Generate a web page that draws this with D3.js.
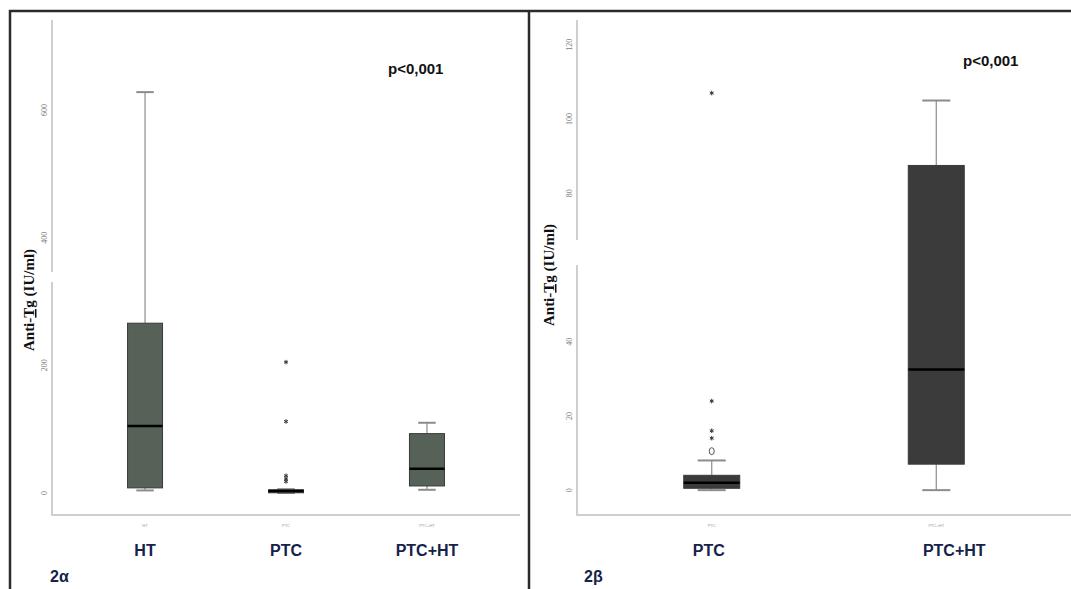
<!DOCTYPE html>
<html>
<head>
<meta charset="utf-8">
<script src="https://cdn.jsdelivr.net/npm/d3@7"></script>
<style>
  body { margin: 0; background: #fff; }
  svg { display: block; }
</style>
</head>
<body>
<svg id="chart" width="1071" height="589"></svg>
<script>
// panel 2α
var leftCats = ["HT", "PTC", "PTC+HT"];
var leftMin = [4, 0, 5];
var leftQ1 = [8, 1, 11];
var leftMedian = [105, 3, 38];
var leftQ3 = [266, 5, 93];
var leftMax = [628, 6, 110];
var leftStars = [[], [205, 112, 27, 22, 18], []];
var leftCircles = [[], [], []];
var leftTicks = [0, 200, 400, 600];

// panel 2β
var rightCats = ["PTC", "PTC+HT"];
var rightMin = [0, 0];
var rightQ1 = [0.5, 7];
var rightMedian = [2, 32.5];
var rightQ3 = [4, 87.5];
var rightMax = [8, 105];
var rightStars = [[107, 24, 16, 14], []];
var rightCircles = [[10.5], []];
var rightTicks = [0, 20, 40, 80, 100, 120];

var svg = d3.select('#chart');

// frame
svg.append('path')
   .attr('d', 'M10,589 L10,11 L1071,11 M529,11 L529,589')
   .attr('fill', 'none').attr('stroke', '#2b2b2b').attr('stroke-width', 2.5);

function drawPanel(opt) {
  var g = svg.append('g');
  var y = d3.scaleLinear().domain(opt.yDomain).range([515, 20]);
  var x = d3.scalePoint().domain(opt.cats).range([opt.x0, opt.x1]).padding(opt.pad);
  var bw = opt.boxWidth;

  // axes lines
  g.append('path')
   .attr('d', 'M' + opt.x0 + ',20 L' + opt.x0 + ',515 L' + opt.x1 + ',515')
   .attr('fill', 'none').attr('stroke', '#cfcfcf').attr('stroke-width', 2);
  // small white gap on the y axis, as in the scan
  g.append('rect').attr('x', opt.x0 - 3).attr('y', opt.gapY).attr('width', 6).attr('height', opt.gapH)
   .attr('fill', '#fff');

  // tick labels (tiny, rotated)
  g.selectAll('.tick').data(opt.ticks).enter().append('text')
   .attr('transform', function(d) { return 'translate(' + (opt.x0 - 8) + ',' + y(d) + ') rotate(-90)'; })
   .attr('text-anchor', 'middle').attr('dy', '0.35em')
   .style('font-family', 'Liberation Serif').style('font-size', '8px').style('fill', '#777')
   .text(function(d) { return d; });

  // tiny x tick labels
  g.selectAll('.xt').data(opt.cats).enter().append('text')
   .attr('x', function(d) { return x(d); }).attr('y', 527)
   .attr('text-anchor', 'middle')
   .style('font-family', 'Liberation Sans').style('font-size', '4px').style('fill', '#999')
   .text(function(d) { return d; });

  opt.cats.forEach(function(c, i) {
    var cx = x(c);
    // whiskers
    g.append('line').attr('x1', cx).attr('x2', cx).attr('y1', y(opt.max[i])).attr('y2', y(opt.q3[i]))
     .attr('stroke', '#8c8c8c').attr('stroke-width', 1.2);
    g.append('line').attr('x1', cx).attr('x2', cx).attr('y1', y(opt.min[i])).attr('y2', y(opt.q1[i]))
     .attr('stroke', '#8c8c8c').attr('stroke-width', 1.2);
    [opt.max[i], opt.min[i]].forEach(function(v) {
      g.append('line').attr('x1', cx - bw / 4).attr('x2', cx + bw / 4).attr('y1', y(v)).attr('y2', y(v))
       .attr('stroke', '#8c8c8c').attr('stroke-width', 2);
    });
    // box
    g.append('rect').attr('x', cx - bw / 2).attr('width', bw)
     .attr('y', y(opt.q3[i])).attr('height', Math.max(3, y(opt.q1[i]) - y(opt.q3[i])))
     .attr('fill', opt.fill).attr('stroke', '#3a3a3a').attr('stroke-width', 1);
    g.append('line').attr('x1', cx - bw / 2).attr('x2', cx + bw / 2)
     .attr('y1', y(opt.median[i])).attr('y2', y(opt.median[i]))
     .attr('stroke', '#000').attr('stroke-width', 2.5);
    // outliers
    g.selectAll('.s' + i).data(opt.stars[i]).enter().append('path')
     .attr('d', d3.symbol(d3.symbolAsterisk, 14)())
     .attr('transform', function(d) { return 'translate(' + cx + ',' + y(d) + ')'; })
     .attr('fill', 'none').attr('stroke', '#333').attr('stroke-width', 1);
    g.selectAll('.c' + i).data(opt.circles[i]).enter().append('ellipse')
     .attr('cx', cx).attr('cy', function(d) { return y(d); }).attr('rx', 2.5).attr('ry', 3.5)
     .attr('fill', 'none').attr('stroke', '#555').attr('stroke-width', 1);

    // category label
    g.append('text').attr('x', cx + (opt.labelShift[i] || 0)).attr('y', 556)
     .attr('text-anchor', 'middle')
     .style('font-family', 'Liberation Sans').style('font-weight', 'bold').style('font-size', '16px')
     .style('fill', '#15224a').text(c);
  });

  // y label
  var lab = g.append('text')
   .attr('transform', 'translate(' + opt.labelX + ',' + opt.labelY + ') rotate(-90)')
   .attr('text-anchor', 'middle')
   .style('font-family', 'Liberation Serif').style('font-weight', 'bold').style('font-size', '15px')
   .style('fill', '#111');
  lab.append('tspan').text('Anti-');
  lab.append('tspan').text('Tg').style('text-decoration', 'underline').style('text-decoration-color', '#e0202a');
  lab.append('tspan').text(' (IU/ml)');

  // p value
  g.append('text').attr('x', opt.pX).attr('y', opt.pY)
   .style('font-family', 'Liberation Sans').style('font-weight', 'bold').style('font-size', '15px')
   .style('fill', '#111').text('p<0,001');

  // panel tag
  g.append('text').attr('x', opt.tagX).attr('y', 582)
   .style('font-family', 'Liberation Sans').style('font-weight', 'bold').style('font-size', '16px')
   .style('fill', '#15224a').text(opt.tag);
}

drawPanel({
  cats: leftCats, min: leftMin, q1: leftQ1, median: leftMedian, q3: leftQ3, max: leftMax,
  stars: leftStars, circles: leftCircles, ticks: leftTicks,
  yDomain: [-34.5, 741], x0: 52, x1: 520, pad: 0.66, boxWidth: 35,
  fill: '#566158', labelX: 34, labelY: 300, pX: 388, pY: 74,
  tag: '2α', tagX: 50, labelShift: [0, 0, 0], gapY: 272, gapH: 10
});

drawPanel({
  cats: rightCats, min: rightMin, q1: rightQ1, median: rightMedian, q3: rightQ3, max: rightMax,
  stars: rightStars, circles: rightCircles, ticks: rightTicks,
  yDomain: [-6.7, 126.7], x0: 577, x1: 1071, pad: 0.6, boxWidth: 56,
  fill: '#3b3b3b', labelX: 554, labelY: 275, pX: 963, pY: 66,
  tag: '2β', tagX: 584, labelShift: [-3, 18], gapY: 240, gapH: 25
});
</script>
</body>
</html>
